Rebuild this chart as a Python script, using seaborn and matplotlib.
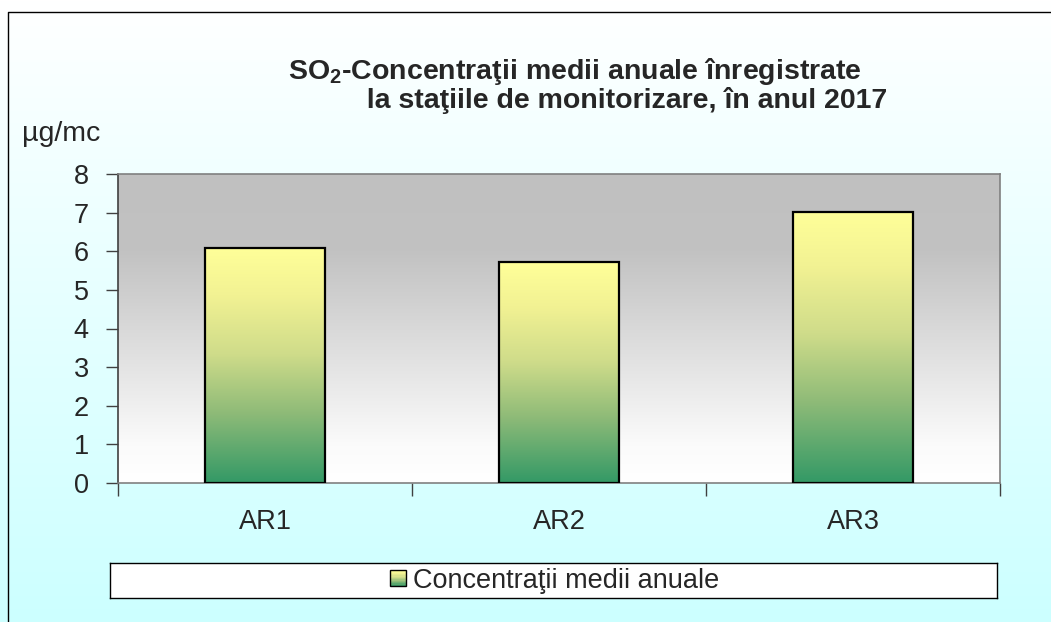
import numpy as np
import pandas as pd
import matplotlib
matplotlib.use("Agg")
import matplotlib.pyplot as plt
import seaborn as sns
from matplotlib.colors import LinearSegmentedColormap
from matplotlib.patches import Rectangle
from matplotlib.legend_handler import HandlerBase

stations = ["AR1", "AR2", "AR3"]
values = [6.08, 5.72, 7.02]
series_name = "Concentraţii medii anuale"
title_lines = [r"SO$_\mathbf{2}$-Concentraţii medii anuale înregistrate",
               "la staţiile de monitorizare, în anul 2017"]

df = pd.DataFrame({"statie": stations, "valoare": values})

sns.set_style("white")
plt.rcParams["font.family"] = ["Liberation Sans", "DejaVu Sans"]
plt.rcParams["mathtext.fontset"] = "custom"
plt.rcParams["mathtext.rm"] = "Liberation Sans"
plt.rcParams["mathtext.bf"] = "Liberation Sans:bold"

bar_cmap = LinearSegmentedColormap.from_list(
    "bar", [(0, "#339966"), (0.3, "#8fbb78"), (0.55, "#cfdc8a"), (0.8, "#f2f293"), (1, "#ffff99")])
plot_cmap = LinearSegmentedColormap.from_list(
    "plot", [(0, "#ffffff"), (0.12, "#fbfbfb"), (0.75, "#c2c2c2"), (1, "#c0c0c0")])
fig_cmap = LinearSegmentedColormap.from_list("fig", ["#ccffff", "#ffffff"])

fig = plt.figure(figsize=(10.51, 6.22), dpi=100)
W, H = 1051, 622

# figure background gradient + frame
bg = fig.add_axes([0, 0, 1, 1], zorder=-10)
grad = np.linspace(0, 1, 256).reshape(-1, 1)
bg.imshow(grad, extent=(0, 1, 0, 1), aspect="auto", cmap=fig_cmap, origin="lower")
bg.plot([8 / W, 8 / W, 1], [0, 1 - 12 / H, 1 - 12 / H], color="black", lw=1)
bg.set_xlim(0, 1)
bg.set_ylim(0, 1)
bg.axis("off")

ax = fig.add_axes([118 / W, 1 - 483 / H, 882 / W, 309 / H])
sns.barplot(data=df, x="statie", y="valoare", width=0.41, ax=ax,
            color="#ffff99", edgecolor="black", linewidth=1.6, zorder=3)

# plot area gradient
ax.imshow(grad, extent=(-0.5, 2.5, 0, 8), aspect="auto", cmap=plot_cmap,
          origin="lower", zorder=0)

# gradient fill inside bars
for p in ax.patches:
    x0, y0 = p.get_x(), p.get_y()
    w, h = p.get_width(), p.get_height()
    im = ax.imshow(grad, extent=(x0, x0 + w, y0, y0 + h), aspect="auto",
                   cmap=bar_cmap, origin="lower", zorder=2)
    im.set_clip_path(p)
    p.set_facecolor("none")
ax.set_xlim(-0.5, 2.5)
ax.set_ylim(0, 8)

for s in ax.spines.values():
    s.set_color("#808080")
    s.set_linewidth(1.2)
ax.spines["left"].set_color("#404040")

ax.set_yticks(range(0, 9))
ax.tick_params(axis="y", direction="out", length=9, width=1, color="#404040",
               labelsize=19.5, pad=12, left=True)
ax.set_xticks([-0.5, 0.5, 1.5, 2.5])
ax.set_xticklabels([])
ax.set_xticks([0, 1, 2], minor=True)
ax.set_xticklabels(stations, minor=True)
ax.tick_params(axis="x", which="major", direction="out", length=9, width=1,
               color="#404040", bottom=True)
ax.tick_params(axis="x", which="minor", length=0, labelsize=19.5, pad=19)
ax.set_xlabel("")
ax.set_ylabel("")

fig.text(22 / W, 1 - 141 / H, "µg/mc", fontsize=20.5, ha="left", va="baseline")
# title: second line indented like the original
fig.text(288 / W, 1 - 108 / H, title_lines[0] + "\n" + " " * 10 + title_lines[1],
         fontsize=20.5, fontweight="bold", ha="left", va="baseline",
         multialignment="left", linespacing=1.0)

# legend box
lg_ax = fig.add_axes([110 / W, 1 - 598 / H, 887 / W, 35 / H], zorder=5)
lg_ax.set_facecolor("white")
lg_ax.set_xticks([])
lg_ax.set_yticks([])
for s in lg_ax.spines.values():
    s.set_color("black")
    s.set_linewidth(1)


class GradHandler(HandlerBase):
    def create_artists(self, legend, orig, xd, yd, width, height, fontsize, trans):
        n = 12
        side = min(width, height) * 0.85
        x0 = xd + (width - side) / 2
        y0 = yd + (height - side) / 2
        arts = []
        for i in range(n):
            arts.append(Rectangle((x0, y0 + side * i / n), side, side / n,
                                  facecolor=bar_cmap((i + 0.5) / n), edgecolor="none",
                                  transform=trans))
        arts.append(Rectangle((x0, y0), side, side, facecolor="none",
                              edgecolor="black", lw=1, transform=trans))
        return arts


lg_ax.legend([Rectangle((0, 0), 1, 1)], [series_name], loc="center", frameon=False,
             fontsize=19.5, handler_map={Rectangle: GradHandler()},
             handlelength=0.7, handletextpad=0.2, borderpad=0)

fig.savefig("out.png", dpi=100)
